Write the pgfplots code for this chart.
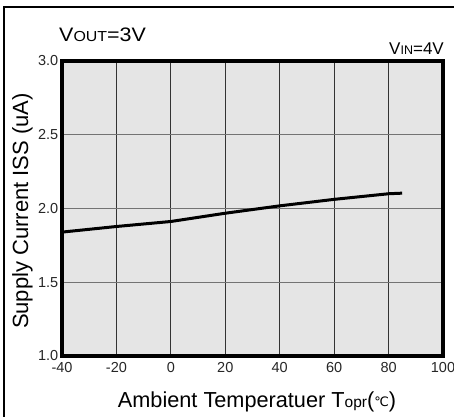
\documentclass[border=0pt]{standalone}
\usepackage{fontspec}
\setmainfont{Liberation Sans}
\newfontfamily\dejavu{DejaVu Sans}
\usepackage{pgfplots}
\pgfplotsset{compat=1.18}
\begin{document}
\begin{tikzpicture}[x=1pt,y=1pt]
\useasboundingbox (0,0) rectangle (454,416);
\draw[line width=1.2pt,black] (4,-20) -- (4,409) -- (480,409);
\begin{axis}[
  at={(62pt,60pt)}, anchor=south west,
  scale only axis, width=381pt, height=295pt,
  xmin=-40, xmax=100, ymin=1, ymax=3,
  xtick={-40,-20,0,20,40,60,80,100},
  ytick={1,1.5,2,2.5,3},
  yticklabel style={/pgf/number format/fixed,/pgf/number format/fixed zerofill,/pgf/number format/precision=1, inner sep=0pt, xshift=-3.5pt},
  xticklabel style={inner sep=0pt, yshift=-6pt},
  /pgf/number format/assume math mode=true,
  ticklabel style={font=\fontsize{14.5}{14.5}\selectfont, text=black!85},
  tick style={draw=none},
  grid=major,
  x grid style={line width=1pt, color=black!80},
  y grid style={line width=1pt, color=black!55},
  axis line style={line width=3.5pt},
  axis background/.style={fill=black!10},
]
\addplot[black, line width=3pt] coordinates {
(-40,1.84) (-20,1.878) (0,1.912) (20,1.968) (40,2.018) (60,2.062) (80,2.10) (85,2.104)
};
\end{axis}
\node[anchor=base west, inner sep=0, xscale=1.1] at (59,374) {\fontsize{19.5}{19.5}\selectfont V\fontsize{14.5}{14.5}\selectfont OUT\fontsize{19.5}{19.5}\selectfont =3V};
\node[anchor=base east, inner sep=0] at (444,361) {\fontsize{17}{17}\selectfont V\fontsize{12.5}{12.5}\selectfont IN\fontsize{17}{17}\selectfont =4V};
\node[anchor=base, inner sep=0] at (257,9) {\fontsize{21.7}{21.7}\selectfont Ambient Temperatuer T\fontsize{15.5}{15.5}\selectfont opr\fontsize{21.7}{21.7}\selectfont (\raisebox{1pt}{\dejavu\fontsize{13}{13}\selectfont ℃})};
\node[rotate=90, anchor=base, inner sep=0] at (28,205) {\fontsize{22}{22}\selectfont Supply Current ISS (uA)};
\end{tikzpicture}
\end{document}
